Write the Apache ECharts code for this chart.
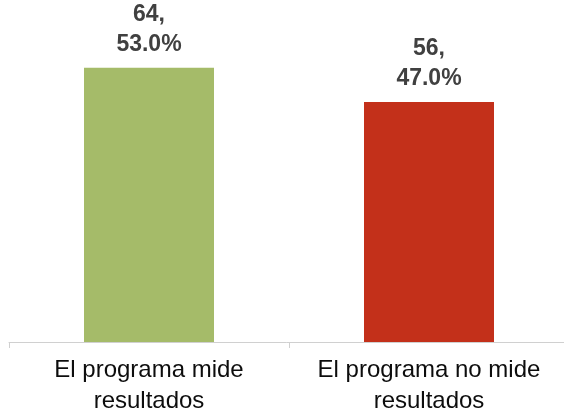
<!DOCTYPE html>
<html><head><meta charset="utf-8">
<script src="https://cdn.jsdelivr.net/npm/echarts@6/dist/echarts.min.js"></script>
<style>html,body{margin:0;padding:0;background:#fff}#c{width:564px;height:411px}</style>
</head><body><div id="c"></div>
<script>
const categories = ["El programa mide\nresultados", "El programa no mide\nresultados"];
const counts = [64, 56];
const percents = ["53.0%", "47.0%"];
const colors = ["#A5BB69", "#C3301A"];

const chart = echarts.init(document.getElementById('c'));
chart.setOption({
  animation: false,
  grid: { left: 9, right: -5, top: 42, bottom: 69, containLabel: false, outerBoundsMode: 'none' },
  xAxis: {
    type: 'category', data: categories,
    axisLine: { lineStyle: { color: '#D0D0D0', width: 1 } },
    axisTick: { show: true, length: 6, lineStyle: { color: '#D0D0D0' } },
    axisLabel: { color: '#0D0D0D', fontSize: 24, lineHeight: 31, margin: 13, fontFamily: 'Liberation Sans, Arial, sans-serif', interval: 0 }
  },
  yAxis: { type: 'value', min: 0, max: 70, show: false, splitLine: { show: false } },
  series: [{
    type: 'bar', barWidth: 130,
    data: counts.map((v, i) => ({ value: v, itemStyle: { color: colors[i] } })),
    label: {
      show: true, position: 'top', distance: 8,
      formatter: p => counts[p.dataIndex] + ',\n' + percents[p.dataIndex],
      color: '#404040', fontSize: 23, fontWeight: 'bold', lineHeight: 30,
      fontFamily: 'Liberation Sans, Arial, sans-serif'
    }
  }]
});
</script></body></html>
